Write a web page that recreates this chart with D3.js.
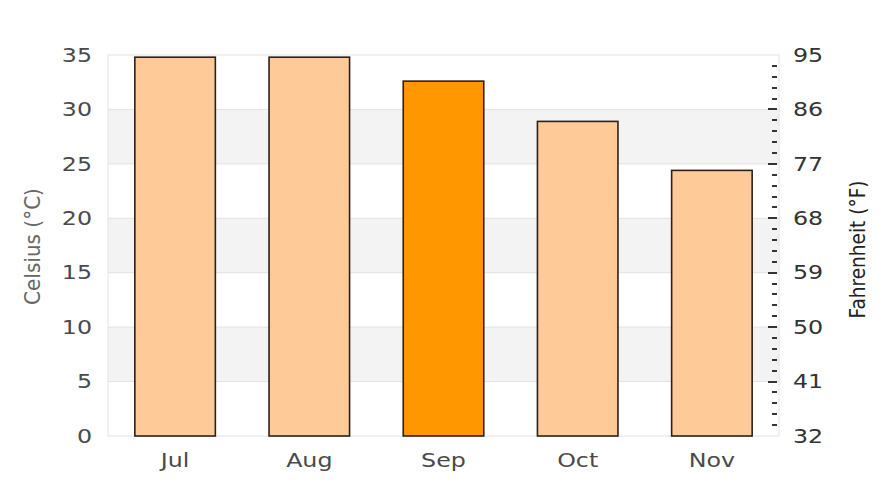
<!DOCTYPE html>
<html>
<head>
<meta charset="utf-8">
<script src="https://cdn.jsdelivr.net/npm/d3@7"></script>
<style>
  html, body { margin: 0; padding: 0; background: #fff; }
  svg { display: block; font-family: "DejaVu Sans", sans-serif; }
</style>
</head>
<body>
<svg id="chart" width="896" height="480"></svg>
<script>
// ---- data ----
const months = ["Jul", "Aug", "Sep", "Oct", "Nov"];
const celsius = [34.8, 34.8, 32.6, 28.9, 24.4];
const highlighted = ["Sep"];
const celsiusTicks = [0, 5, 10, 15, 20, 25, 30, 35];
const fahrenheitTicks = [32, 41, 50, 59, 68, 77, 86, 95];
const celsiusMinorSteps = d3.range(1, 35); // 1 °C steps for the right-side minor ticks

// ---- layout ----
const W = 896, H = 480;
const plot = { left: 108, right: 779, top: 55, bottom: 436 };
const SX = 1.25; // horizontal text stretch

const svg = d3.select("#chart");

const x = d3.scaleBand().domain(months).range([plot.left, plot.right])
  .paddingInner(0.4).paddingOuter(0.2);
const y = d3.scaleLinear().domain([0, 35]).range([plot.bottom, plot.top]);
const yF = d3.scaleLinear().domain([32, 95]).range([plot.bottom, plot.top]);

// alternating bands
const bands = celsiusTicks.slice(0, -1).map((t, i) => ({ lo: t, hi: celsiusTicks[i + 1], i }))
  .filter(d => d.i % 2 === 1);
svg.append("g").selectAll("rect").data(bands).join("rect")
  .attr("x", plot.left).attr("width", plot.right - plot.left)
  .attr("y", d => y(d.hi)).attr("height", d => y(d.lo) - y(d.hi))
  .attr("fill", "#f3f3f3");

// grid lines
svg.append("g").selectAll("line").data(celsiusTicks).join("line")
  .attr("x1", plot.left).attr("x2", plot.right)
  .attr("y1", d => y(d)).attr("y2", d => y(d))
  .attr("stroke", "#e2e2e2").attr("stroke-width", 1);

// plot border left/right
svg.append("line").attr("x1", plot.left).attr("x2", plot.left)
  .attr("y1", plot.top).attr("y2", plot.bottom).attr("stroke", "#e2e2e2");
svg.append("line").attr("x1", plot.right).attr("x2", plot.right)
  .attr("y1", plot.top).attr("y2", plot.bottom).attr("stroke", "#e2e2e2");

// bars
svg.append("g").selectAll("rect").data(months).join("rect")
  .attr("x", d => x(d)).attr("width", x.bandwidth())
  .attr("y", (d, i) => y(celsius[i])).attr("height", (d, i) => y(0) - y(celsius[i]))
  .attr("fill", d => highlighted.includes(d) ? "#ff9800" : "#fdca98")
  .attr("stroke", "#2e2014").attr("stroke-width", 1.6);

// left axis
const gL = svg.append("g").attr("transform", `translate(${plot.left},0)`)
  .call(d3.axisLeft(y).tickValues(celsiusTicks).tickSize(0).tickPadding(0));
gL.select(".domain").remove();
gL.selectAll("text")
  .attr("x", -16 / SX).attr("dy", "0.33em")
  .attr("transform", `scale(${SX},1)`)
  .attr("font-size", 19).attr("fill", "#4a4a4a")
  .style("font-family", "DejaVu Sans");

// right axis labels
const gR = svg.append("g").attr("transform", `translate(${plot.right},0)`)
  .call(d3.axisRight(yF).tickValues(fahrenheitTicks).tickSize(0).tickPadding(0));
gR.select(".domain").remove();
gR.selectAll("text")
  .attr("x", 14 / SX).attr("dy", "0.33em")
  .attr("transform", `scale(${SX},1)`)
  .attr("font-size", 19).attr("fill", "#333")
  .style("font-family", "DejaVu Sans");

// right axis inward ticks (1 °C steps; longer at labelled values)
const minorF = celsiusMinorSteps.map(c => 32 + c * 1.8);
svg.append("g").selectAll("line").data(minorF).join("line")
  .attr("x1", plot.right - 2)
  .attr("x2", (d, i) => plot.right - 2 - ((i + 1) % 5 === 0 ? 9 : 5))
  .attr("y1", d => Math.round(yF(d)))
  .attr("y2", d => Math.round(yF(d)))
  .attr("stroke", "#333").attr("stroke-width", 2)
  .attr("shape-rendering", "crispEdges");

// bottom axis
const gB = svg.append("g").attr("transform", `translate(0,${plot.bottom})`)
  .call(d3.axisBottom(x).tickSize(0).tickPadding(0));
gB.select(".domain").remove();
gB.selectAll(".tick text")
  .attr("y", 31).attr("dy", 0)
  .attr("transform", `scale(${SX},1)`)
  .attr("font-size", 19).attr("fill", "#4a4a4a")
  .style("font-family", "DejaVu Sans");

// axis titles
svg.append("text")
  .attr("transform", `translate(40,${(plot.top + plot.bottom) / 2 + 1}) scale(1.1,1) rotate(-90)`)
  .attr("text-anchor", "middle")
  .attr("font-size", 20).attr("fill", "#666")
  .text("Celsius (°C)");
svg.append("text")
  .attr("transform", `translate(865,${(plot.top + plot.bottom) / 2 + 4}) scale(1.1,1) rotate(-90)`)
  .attr("text-anchor", "middle")
  .attr("font-size", 18.5).attr("fill", "#222")
  .text("Fahrenheit (°F)");
</script>
</body>
</html>
